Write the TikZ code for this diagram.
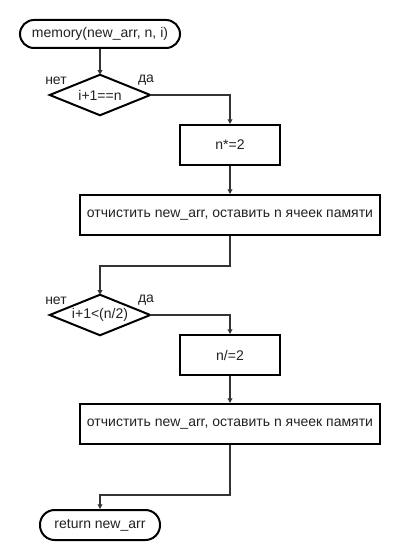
\documentclass[tikz,border=0pt]{standalone}
\usepackage{fontspec}
\setmainfont{Liberation Sans}
\usetikzlibrary{arrows.meta}
\definecolor{ink}{HTML}{222222}
\definecolor{wire}{HTML}{333333}
\begin{document}
\begin{tikzpicture}[x=0.75pt,y=-0.75pt,
  font=\fontsize{10.5}{12.5}\selectfont, text=ink,
  term/.style={draw=black, line width=1.5pt, rounded corners=10.5pt, inner sep=0pt},
  procbox/.style={draw=black, line width=1.5pt, inner sep=0pt, minimum height=30pt},
  decslot/.style={inner sep=0pt, minimum width=75pt, minimum height=30pt},
  decshape/.style={draw=black, line width=1.5pt, line join=miter},
  conn/.style={draw=wire, line width=1.1pt, -{Triangle[length=3.5pt,width=3.5pt]}},
  lbl/.style={inner sep=0pt}]
% canvas
\path[fill=white] (0,0) rectangle (400,560);
\useasboundingbox (0,0) rectangle (400,560);

% blocks
\node[term, minimum width=120pt, minimum height=21pt] (start) at (100,34) {memory(new\_arr, n, i)};
\node[decslot] (d1) at (100,95) {i+1==n};
\draw[decshape] (d1.north) -- (d1.east) -- (d1.south) -- (d1.west) -- cycle;
\node[procbox, minimum width=75pt] (b1) at (230,145) {n*=2};
\node[procbox, minimum width=225pt] (b2) at (230,215) {отчистить new\_arr, оставить n ячеек памяти};
\node[decslot] (d2) at (100,315) {i+1<(n/2)};
\draw[decshape] (d2.north) -- (d2.east) -- (d2.south) -- (d2.west) -- cycle;
\node[procbox, minimum width=75pt] (b3) at (230,355) {n/=2};
\node[procbox, minimum width=225pt] (b4) at (230,424) {отчистить new\_arr, оставить n ячеек памяти};
\node[term, minimum width=90pt, minimum height=22.5pt, rounded corners=11pt] (stop) at (100,525) {return new\_arr};

% branch labels
\node[lbl] (no1) at (56,81) {нет};
\node[lbl] (yes1) at (146,80) {да};
\node[lbl] (no2) at (56,301) {нет};
\node[lbl] (yes2) at (146,300) {да};

% connectors
\draw[conn] (start.south) -- (d1.north);
\draw[conn] (d1.east) -| (b1.north);
\draw[conn] (b1.south) -- (b2.north);
\draw[conn] (b2.south) -- ++(0,30) -| (d2.north);
\draw[conn] (d2.east) -| (b3.north);
\draw[conn] (b3.south) -- (b4.north);
\draw[conn] (b4.south) -- ++(0,50) -| (stop.north);
\end{tikzpicture}
\end{document}
